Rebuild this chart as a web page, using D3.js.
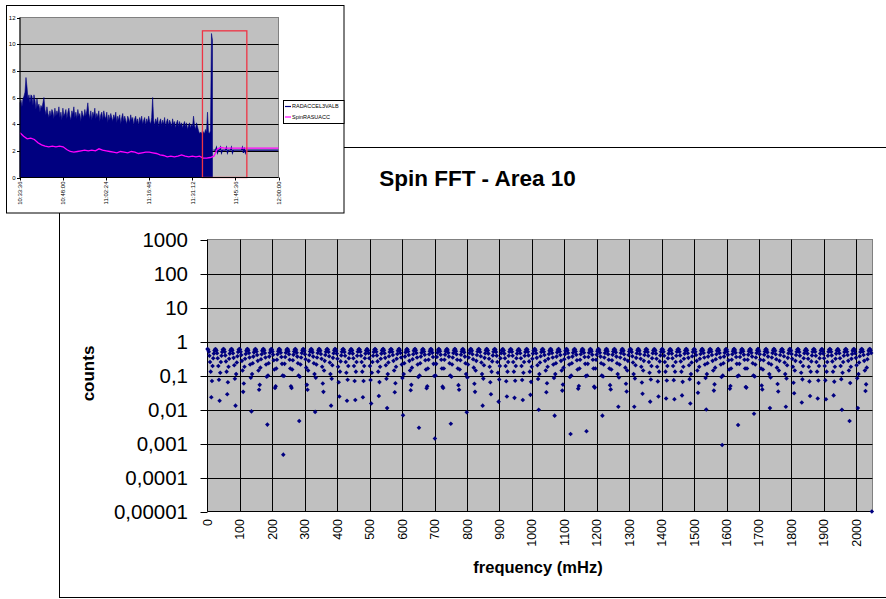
<!DOCTYPE html>
<html>
<head>
<meta charset="utf-8">
<script src="https://d3js.org/d3.v7.min.js"></script>
<style>
  body { margin: 0; background: #fff; }
  svg { display: block; font-family: "Liberation Sans", Arial, sans-serif; }
</style>
</head>
<body>
<svg id="chart" width="886" height="599"></svg>
<script>
// ---------------- Spin FFT, area 10 ----------------
// Spectrum magnitude per FFT bin, bin 0 = 0 mHz, last bin = 2048 mHz
const binWidthMHz = 1.96357;
const fftCounts = [
  0.6,0.57,0.5,0.38,0.25,0.13,0.023,
  0.069,0.19,0.32,0.44,0.54,0.59,0.59,0.54,0.45,0.32,0.19,0.075,
  0.018,0.12,0.25,0.38,0.49,0.57,0.6,0.58,0.5,0.39,0.26,0.13,0.028,
  0.063,0.18,0.31,0.44,0.54,0.59,0.6,0.55,0.45,0.33,0.2,0.08,
  0.013,0.11,0.24,0.37,0.49,0.57,0.6,0.58,0.5,0.4,0.27,0.14,0.033,
  0.058,0.18,0.31,0.43,0.53,0.59,0.6,0.55,0.46,0.34,0.21,0.086,
  0.0088,0.11,0.23,0.36,0.48,0.56,0.6,0.58,0.51,0.4,0.27,0.14,0.038,
  0.053,0.17,0.3,0.42,0.53,0.59,0.6,0.55,0.46,0.34,0.21,0.092,
  0.0036,0.1,0.23,0.36,0.47,0.56,0.6,0.58,0.51,0.41,0.28,0.15,0.043,
  0.048,0.16,0.29,0.42,0.52,0.59,0.6,0.56,0.47,0.35,0.22,0.1,0.00047,
  0.097,0.22,0.35,0.47,0.56,0.6,0.59,0.52,0.42,0.29,0.16,0.048,
  0.043,0.15,0.28,0.41,0.51,0.58,0.6,0.56,0.47,0.36,0.23,0.1,0.0046,
  0.092,0.21,0.34,0.46,0.55,0.6,0.59,0.53,0.42,0.3,0.17,0.053,
  0.038,0.14,0.27,0.4,0.51,0.58,0.6,0.56,0.48,0.36,0.23,0.11,0.0085,
  0.086,0.21,0.34,0.46,0.55,0.6,0.59,0.53,0.43,0.31,0.18,0.058,
  0.033,0.14,0.27,0.4,0.5,0.58,0.6,0.57,0.49,0.37,0.24,0.11,0.013,
  0.08,0.2,0.33,0.45,0.55,0.6,0.59,0.54,0.44,0.31,0.18,0.063,
  0.024,0.13,0.26,0.39,0.5,0.58,0.6,0.57,0.49,0.38,0.25,0.12,0.018,
  0.075,0.19,0.32,0.45,0.54,0.59,0.59,0.54,0.44,0.32,0.19,0.069,
  0.019,0.13,0.25,0.38,0.5,0.57,0.6,0.57,0.5,0.38,0.25,0.13,0.023,
  0.069,0.19,0.32,0.44,0.54,0.59,0.59,0.54,0.45,0.32,0.19,0.074,
  0.015,0.12,0.25,0.38,0.49,0.57,0.6,0.58,0.5,0.39,0.26,0.13,0.025,
  0.064,0.18,0.31,0.44,0.54,0.59,0.6,0.55,0.45,0.33,0.2,0.08,
  0.011,0.11,0.24,0.37,0.49,0.57,0.6,0.58,0.5,0.4,0.27,0.14,0.032,
  0.059,0.18,0.31,0.43,0.53,0.59,0.6,0.55,0.46,0.34,0.21,0.085,
  0.0068,0.11,0.23,0.36,0.48,0.56,0.6,0.58,0.51,0.4,0.27,0.14,0.037,
  0.053,0.17,0.3,0.42,0.53,0.59,0.6,0.55,0.46,0.34,0.21,0.091,
  0.0029,0.1,0.23,0.36,0.47,0.56,0.6,0.58,0.51,0.41,0.28,0.15,0.042,
  0.048,0.16,0.29,0.42,0.52,0.59,0.6,0.56,0.47,0.35,0.22,0.097,
  0.0014,0.1,0.22,0.35,0.47,0.56,0.6,0.58,0.52,0.41,0.29,0.16,0.047,
  0.043,0.16,0.29,0.41,0.52,0.58,0.6,0.56,0.47,0.36,0.23,0.1,0.0038,
  0.092,0.21,0.34,0.46,0.55,0.6,0.59,0.52,0.42,0.29,0.16,0.052,
  0.038,0.15,0.28,0.41,0.51,0.58,0.6,0.56,0.48,0.36,0.23,0.11,0.0083,
  0.087,0.21,0.34,0.46,0.55,0.6,0.59,0.53,0.42,0.3,0.17,0.057,
  0.033,0.14,0.27,0.4,0.51,0.58,0.6,0.57,0.49,0.37,0.24,0.11,0.013,
  0.081,0.2,0.33,0.45,0.55,0.6,0.59,0.54,0.44,0.31,0.18,0.063,
  0.028,0.13,0.26,0.39,0.5,0.58,0.6,0.57,0.49,0.38,0.25,0.12,0.017,
  0.076,0.19,0.32,0.45,0.54,0.59,0.59,0.54,0.44,0.32,0.19,0.068,
  0.024,0.13,0.25,0.38,0.5,0.57,0.6,0.57,0.5,0.38,0.25,0.13,0.022,
  0.07,0.19,0.32,0.44,0.54,0.59,0.59,0.54,0.45,0.32,0.19,0.074,
  0.019,0.12,0.25,0.38,0.49,0.57,0.6,0.58,0.5,0.39,0.26,0.13,0.027,
  0.065,0.18,0.31,0.44,0.54,0.59,0.6,0.55,0.45,0.33,0.2,0.079,
  0.0098,0.11,0.24,0.37,0.49,0.57,0.6,0.58,0.5,0.4,0.27,0.14,0.032,
  0.059,0.18,0.31,0.43,0.53,0.59,0.6,0.55,0.46,0.34,0.21,0.085,
  0.0066,0.11,0.23,0.36,0.48,0.56,0.6,0.58,0.51,0.4,0.27,0.14,0.036,
  0.054,0.17,0.3,0.42,0.53,0.59,0.6,0.55,0.46,0.34,0.21,0.09,
  0.0019,0.1,0.23,0.36,0.47,0.56,0.6,0.58,0.51,0.41,0.28,0.15,0.041,
  0.049,0.16,0.29,0.42,0.52,0.59,0.6,0.56,0.47,0.35,0.22,0.096,
  0.0023,0.1,0.22,0.35,0.47,0.56,0.6,0.58,0.52,0.41,0.29,0.16,0.047,
  0.044,0.16,0.29,0.41,0.52,0.58,0.6,0.56,0.47,0.36,0.23,0.1,0.0066,
  0.093,0.21,0.34,0.46,0.55,0.6,0.59,0.52,0.42,0.29,0.16,0.052,
  0.039,0.15,0.28,0.41,0.51,0.58,0.6,0.56,0.48,0.36,0.23,0.11,0.012,
  0.087,0.21,0.34,0.46,0.55,0.6,0.59,0.53,0.42,0.3,0.17,0.057,
  0.034,0.14,0.27,0.4,0.51,0.58,0.6,0.57,0.49,0.37,0.24,0.11,0.012,
  0.082,0.2,0.33,0.45,0.55,0.6,0.59,0.53,0.43,0.31,0.18,0.062,
  0.029,0.14,0.27,0.4,0.5,0.58,0.6,0.57,0.49,0.38,0.25,0.12,0.017,
  0.076,0.19,0.32,0.45,0.54,0.59,0.59,0.54,0.44,0.31,0.18,0.067,
  0.024,0.13,0.26,0.39,0.5,0.58,0.6,0.57,0.5,0.38,0.25,0.13,0.021,
  0.071,0.19,0.32,0.44,0.54,0.59,0.59,0.54,0.44,0.32,0.19,0.073,
  0.02,0.13,0.25,0.38,0.5,0.57,0.6,0.58,0.5,0.39,0.26,0.13,0.026,
  0.065,0.18,0.31,0.44,0.54,0.59,0.6,0.55,0.45,0.33,0.2,0.078,
  0.015,0.11,0.24,0.37,0.49,0.57,0.6,0.58,0.5,0.4,0.27,0.14,0.031,
  0.06,0.18,0.31,0.43,0.53,0.59,0.6,0.55,0.46,0.34,0.21,0.084,
  0.01,0.11,0.23,0.36,0.48,0.56,0.6,0.58,0.51,0.4,0.27,0.14,0.036,
  0.055,0.17,0.3,0.42,0.53,0.59,0.6,0.55,0.46,0.34,0.21,0.09,
  0.0009,0.1,0.23,0.36,0.47,0.56,0.6,0.58,0.51,0.41,0.28,0.15,0.041,
  0.049,0.16,0.29,0.42,0.52,0.59,0.6,0.56,0.47,0.35,0.22,0.095,
  0.0035,0.1,0.22,0.35,0.47,0.56,0.6,0.58,0.52,0.41,0.29,0.16,0.046,
  0.044,0.16,0.29,0.41,0.52,0.58,0.6,0.56,0.47,0.36,0.23,0.1,0.0075,
  0.094,0.21,0.34,0.46,0.55,0.6,0.59,0.52,0.42,0.29,0.16,0.051,
  0.039,0.15,0.28,0.41,0.51,0.58,0.6,0.56,0.48,0.36,0.23,0.11,0.011,
  0.088,0.21,0.34,0.46,0.55,0.6,0.59,0.53,0.42,0.3,0.17,0.056,
  0.034,0.14,0.27,0.4,0.51,0.58,0.6,0.57,0.49,0.37,0.24,0.11,0.012,
  0.082,0.2,0.33,0.45,0.55,0.6,0.59,0.53,0.43,0.31,0.18,0.061,
  0.03,0.14,0.27,0.4,0.5,0.58,0.6,0.57,0.49,0.38,0.25,0.12,0.016,
  0.077,0.19,0.32,0.45,0.54,0.59,0.59,0.54,0.44,0.31,0.18,0.067,
  0.025,0.13,0.26,0.39,0.5,0.58,0.6,0.57,0.5,0.38,0.25,0.13,0.021,
  0.071,0.19,0.32,0.44,0.54,0.59,0.59,0.54,0.44,0.32,0.19,0.072,
  0.02,0.13,0.25,0.38,0.5,0.57,0.6,0.58,0.5,0.39,0.26,0.13,0.026,
  0.066,0.18,0.31,0.44,0.54,0.59,0.59,0.54,0.45,0.32,0.19,0.078,
  0.0098,0.12,0.25,0.38,0.49,0.57,0.6,0.58,0.5,0.4,0.27,0.14,0.0046,
  0.06,0.18,0.31,0.43,0.53,0.59,0.6,0.55,0.45,0.33,0.2,0.083,
  0.011,0.11,0.24,0.37,0.49,0.57,0.6,0.58,0.51,0.4,0.27,0.14,0.035,
  0.055,0.17,0.3,0.42,0.53,0.59,0.6,0.55,0.46,0.00001
];
const freqAxisMax = 2050;
const freqTicks = [0,100,200,300,400,500,600,700,800,900,1000,1100,1200,1300,1400,1500,1600,1700,1800,1900,2000];
const countTicks = [1000,100,10,1,0.1,0.01,0.001,0.0001,0.00001];
const countTickLabels = ["1000","100","10","1","0,1","0,01","0,001","0,0001","0,00001"];

// ---------------- Overview: radial acceleration vs. time ----------------
const timeTickLabels = ["10:33:36","10:48:00","11:02:24","11:16:48","11:31:12","11:45:36","12:00:00"];
const timeSpanSec = 5184;                 // 10:33:36 .. 12:00:00
const accelTicks = [0,2,4,6,8,10,12];
// RADACCEL3VALB peak per 20 s while spinning (from 10:33:36)
const radAccelStepSec = 20;
const radAccelActive = [
  5.6,5.8,5.3,5.9,6.1,6.4,7.5,6.8,5.9,6.2,5.6,6.2,6.1,5.4,6.2,5.8,5.1,5.9,5.3,5.5,
  4.9,5.4,5.2,5.6,6.0,5.1,4.7,5.3,4.8,4.5,5.0,4.6,5.1,4.9,4.4,5.2,4.6,5.0,4.7,5.3,
  4.5,4.9,4.3,5.2,4.6,4.8,5.1,4.4,4.9,5.2,4.6,4.3,5.0,4.7,5.3,4.5,4.9,4.4,5.1,4.6,
  4.8,4.2,5.0,4.7,4.5,5.1,4.6,5.0,5.6,4.8,4.4,5.0,4.3,4.9,4.6,5.2,4.4,4.8,4.5,5.0,
  4.2,4.7,4.9,4.3,5.0,4.6,4.4,4.9,4.1,4.7,4.3,4.8,4.5,4.2,4.7,4.4,4.9,4.1,4.6,4.3,
  4.7,4.0,4.5,4.8,4.2,4.6,4.3,4.0,4.6,4.4,4.1,4.7,4.3,4.5,3.9,4.4,4.6,4.1,4.4,3.9,
  4.5,4.2,4.6,4.0,4.3,4.5,3.9,4.4,4.1,4.6,4.2,4.0,4.5,6.0,4.3,3.9,4.4,4.1,4.5,3.8,
  4.2,4.4,3.9,4.3,4.0,4.5,3.8,4.2,4.4,3.9,4.3,4.1,3.8,4.4,4.0,4.2,3.7,4.1,4.3,3.8,
  4.2,3.9,4.1,3.7,4.0,4.2,3.8,4.1,3.6,3.9,4.1,3.7,4.0,3.8,4.6,3.9,3.6,4.1,3.8,3.5,
  3.3,3.4,3.3,3.5,3.4,3.3,3.6,3.4,4.9,3.4,3.3,3.5,10.8,10.3
];
// RADACCEL3VALB after spin-down, per 20 s from 11:38:16
const radAccelIdleStartSec = 3880;
const radAccelIdle = [
  2.05,2.05,2.05,2.25,1.85,2.05,2.05,2.25,1.85,2.05,2.05,2.05,2.05,2.25,1.85,2.05,2.05,2.05,2.25,1.85,
  2.05,2.05,2.05,2.05,2.05,2.05,2.05,2.05,2.05,2.25,1.85,2.25,1.85,2.05,2.05,2.05,2.05,2.05,2.05,2.05,
  2.05,2.05,2.05,2.05,2.05,2.05,2.05,2.05,2.05,2.05,2.05,2.05,2.05,2.05,2.05,2.05,2.05,2.05,2.05,2.05,
  2.05,2.05,2.05,2.05,2.05,2.05
];
// Spin RASUACC, one value per 72 s
const spinStepSec = 72;
const spinRasuacc = [
  3.35,3.1,2.9,2.95,2.85,2.6,2.45,2.35,2.3,2.35,2.3,2.35,2.3,2.1,1.95,1.9,1.95,2.0,2.05,2.0,
  2.05,2.0,2.15,2.05,2.0,1.95,1.9,1.85,1.95,1.9,1.85,1.95,1.9,1.8,1.85,1.9,1.9,1.85,1.8,1.7,
  1.65,1.55,1.6,1.55,1.6,1.7,1.6,1.55,1.6,1.55,1.6,1.45,1.45,1.5,1.6,2.15,2.25,2.2,2.2,2.2,
  2.2,2.2,2.2,2.2,2.2,2.2,2.2,2.2,2.2,2.2,2.2,2.2,2.2
];
// Window analysed by the FFT (seconds after 10:33:36) and its height
const fftWindowSec = [3659, 4549];
const fftWindowTop = 11;

const seriesNames = ["RADACCEL3VALB", "SpinRASUACC"];

const svg = d3.select("#chart");
const crisp = v => Math.round(v) + 0.5;

// ================= spectrum chart =================
svg.append("rect")
  .attr("x", 59.5).attr("y", 147.5).attr("width", 900).attr("height", 450)
  .attr("fill", "#fff").attr("stroke", "#000");

const P = { left: 207.5, right: 872.5, top: 239.5, bottom: 511.5 };
const x = d3.scaleLinear().domain([0, freqAxisMax]).range([P.left, P.right]);
const y = d3.scaleLog().domain([countTicks[countTicks.length - 1], countTicks[0]]).range([P.bottom, P.top]);

svg.append("rect")
  .attr("x", P.left).attr("y", P.top)
  .attr("width", P.right - P.left).attr("height", P.bottom - P.top)
  .attr("fill", "#c0c0c0").attr("stroke", "#808080");

const grid = svg.append("g").attr("stroke", "#000").attr("stroke-width", 1);
grid.selectAll("line.h").data(countTicks.slice(1, -1)).join("line")
  .attr("x1", P.left).attr("x2", P.right)
  .attr("y1", d => crisp(y(d))).attr("y2", d => crisp(y(d)));
grid.selectAll("line.v").data(freqTicks.slice(1)).join("line")
  .attr("y1", P.top).attr("y2", P.bottom)
  .attr("x1", d => crisp(x(d))).attr("x2", d => crisp(x(d)));

// axes
svg.append("line").attr("x1", P.left).attr("x2", P.left).attr("y1", P.top).attr("y2", P.bottom).attr("stroke", "#000");
svg.append("line").attr("x1", P.left).attr("x2", P.right).attr("y1", P.bottom).attr("y2", P.bottom).attr("stroke", "#000");

const yAx = svg.append("g");
yAx.selectAll("line").data(countTicks).join("line")
  .attr("x1", P.left - 7).attr("x2", P.left)
  .attr("y1", d => crisp(y(d))).attr("y2", d => crisp(y(d)))
  .attr("stroke", "#000");
yAx.selectAll("text").data(countTicks).join("text")
  .attr("x", 188).attr("y", d => y(d)).attr("dy", "0.36em")
  .attr("text-anchor", "end").attr("font-size", 20.5)
  .text((d, i) => countTickLabels[i]);

svg.append("g").selectAll("text").data(freqTicks).join("text")
  .attr("transform", d => `translate(${x(d)},519) rotate(-90)`)
  .attr("dy", "0.36em").attr("text-anchor", "end").attr("font-size", 12.5)
  .text(d => d);

// spectrum points
const diamond = "M0,-2.3L2.3,0L0,2.3L-2.3,0Z";
svg.append("g").selectAll("path").data(fftCounts).join("path")
  .attr("transform", (d, i) => `translate(${x(i * binWidthMHz)},${y(Math.max(d, 1e-5))})`)
  .attr("d", diamond).attr("fill", "#000080");

// titles
svg.append("text").attr("x", 477.5).attr("y", 186).attr("text-anchor", "middle")
  .attr("font-size", 22.5).attr("font-weight", "bold").text("Spin FFT - Area 10");
svg.append("text").attr("transform", "translate(94,373.5) rotate(-90)")
  .attr("text-anchor", "middle").attr("font-size", 17).attr("font-weight", "bold").text("counts");
svg.append("text").attr("x", 538).attr("y", 573).attr("text-anchor", "middle")
  .attr("font-size", 16.5).attr("font-weight", "bold").text("frequency (mHz)");

// ================= overview inset =================
svg.append("rect").attr("x", 6.5).attr("y", 5.5).attr("width", 337.5).attr("height", 207.5)
  .attr("fill", "#fff").attr("stroke", "#000");

const Q = { left: 20, right: 278.5, top: 17.5, bottom: 177.5 };
const tx = d3.scaleLinear().domain([0, timeSpanSec]).range([Q.left, Q.right]);
const ty = d3.scaleLinear().domain([0, accelTicks[accelTicks.length - 1]]).range([Q.bottom, Q.top]);

svg.append("rect").attr("x", Q.left).attr("y", Q.top)
  .attr("width", Q.right - Q.left).attr("height", Q.bottom - Q.top)
  .attr("fill", "#c0c0c0").attr("stroke", "#808080");

svg.append("g").selectAll("line").data(accelTicks.slice(1, -1)).join("line")
  .attr("x1", Q.left).attr("x2", Q.right)
  .attr("y1", d => crisp(ty(d))).attr("y2", d => crisp(ty(d)))
  .attr("stroke", "#000");

// RADACCEL3VALB
svg.append("path").datum(radAccelActive)
  .attr("d", d3.area().x((d, i) => tx(i * radAccelStepSec)).y0(ty(0)).y1(d => ty(d)))
  .attr("fill", "#000080").attr("stroke", "#000080").attr("stroke-width", 0.6);
svg.append("path").datum(radAccelIdle)
  .attr("d", d3.line().x((d, i) => tx(radAccelIdleStartSec + i * radAccelStepSec)).y(d => ty(d)))
  .attr("fill", "none").attr("stroke", "#000080").attr("stroke-width", 1.2);

// Spin RASUACC
svg.append("path").datum(spinRasuacc)
  .attr("d", d3.line().x((d, i) => tx(i * spinStepSec)).y(d => ty(d)))
  .attr("fill", "none").attr("stroke", "#ff00ff").attr("stroke-width", 1.3);

// FFT window marker
svg.append("rect")
  .attr("x", tx(fftWindowSec[0])).attr("y", ty(fftWindowTop))
  .attr("width", tx(fftWindowSec[1]) - tx(fftWindowSec[0]))
  .attr("height", ty(0) - ty(fftWindowTop))
  .attr("fill", "none").attr("stroke", "#ee3344").attr("stroke-width", 1.3);

// inset axes
svg.append("line").attr("x1", Q.left).attr("x2", Q.left).attr("y1", Q.top).attr("y2", Q.bottom).attr("stroke", "#000");
svg.append("line").attr("x1", Q.left).attr("x2", Q.right).attr("y1", Q.bottom).attr("y2", Q.bottom).attr("stroke", "#000");
svg.append("g").selectAll("line").data(accelTicks).join("line")
  .attr("x1", Q.left - 3).attr("x2", Q.left)
  .attr("y1", d => crisp(ty(d))).attr("y2", d => crisp(ty(d))).attr("stroke", "#000");
svg.append("g").selectAll("text").data(accelTicks).join("text")
  .attr("x", 15.5).attr("y", d => ty(d)).attr("dy", "0.36em")
  .attr("text-anchor", "end").attr("font-size", 6).text(d => d);

const timeTickSec = timeTickLabels.map((_, i) => i * timeSpanSec / (timeTickLabels.length - 1));
svg.append("g").selectAll("line").data(timeTickSec).join("line")
  .attr("x1", d => crisp(tx(d))).attr("x2", d => crisp(tx(d)))
  .attr("y1", Q.bottom).attr("y2", Q.bottom + 3).attr("stroke", "#000");
svg.append("g").selectAll("text").data(timeTickSec).join("text")
  .attr("transform", d => `translate(${tx(d)},181.5) rotate(-90)`)
  .attr("dy", "0.36em").attr("text-anchor", "end").attr("font-size", 6)
  .text((d, i) => timeTickLabels[i]);

// inset legend
const lg = svg.append("g");
lg.append("rect").attr("x", 283.5).attr("y", 100.5).attr("width", 60.5).attr("height", 23)
  .attr("fill", "#fff").attr("stroke", "#000");
const legendColors = ["#000080", "#ff00ff"];
seriesNames.forEach((name, i) => {
  const yy = 106.5 + i * 10.5;
  lg.append("line").attr("x1", 285).attr("x2", 291).attr("y1", yy).attr("y2", yy)
    .attr("stroke", legendColors[i]).attr("stroke-width", 1.2);
  lg.append("text").attr("x", 292).attr("y", yy).attr("dy", "0.36em")
    .attr("font-size", 5.5).text(name);
});
</script>
</body>
</html>
